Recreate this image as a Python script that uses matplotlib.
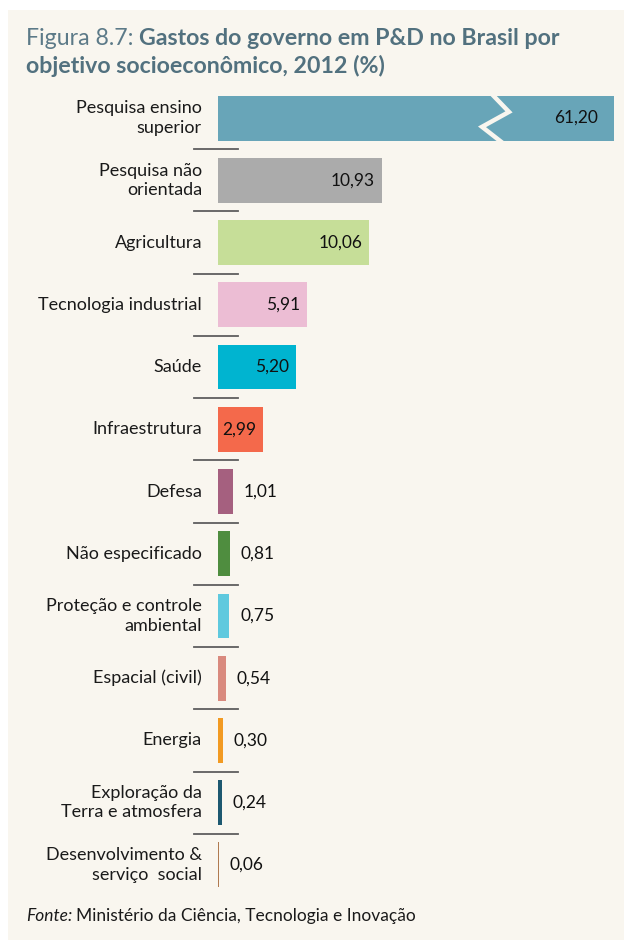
import matplotlib
matplotlib.use('Agg')
import matplotlib.pyplot as plt
import matplotlib.patches as patches

plt.rcParams['font.family'] = ['Lato', 'DejaVu Sans']

categories = ['Pesquisa ensino\nsuperior', 'Pesquisa não\norientada', 'Agricultura',
              'Tecnologia industrial', 'Saúde', 'Infraestrutura', 'Defesa',
              'Não especificado', 'Proteção e controle\nambiental', 'Espacial (civil)',
              'Energia', 'Exploração da\nTerra e atmosfera', 'Desenvolvimento &\nserviço  social']
values = [61.20, 10.93, 10.06, 5.91, 5.20, 2.99, 1.01, 0.81, 0.75, 0.54, 0.30, 0.24, 0.06]
colors = ['#68a5b8', '#ababab', '#c6de98', '#ecbdd4', '#00b4d0', '#f4694b', '#a5607f',
          '#4f8d3f', '#5fc9de', '#d98a7e', '#f29a22', '#1d5870', '#b07a50']

cream = '#f9f6ef'
title_col = '#52717f'
W, H = 624, 940

fig = plt.figure(figsize=(W / 100, H / 100), dpi=100)
fig.patch.set_facecolor('white')
fig.add_artist(patches.Rectangle((8 / W, 0), 1, 1 - 10 / H, transform=fig.transFigure,
                                 facecolor=cream, edgecolor='none', zorder=-10))

# axes: x=0 at 218px, 15px per unit, cut at 614px
ax = fig.add_axes([218 / W, 1 - 896 / H, 396 / W, 809 / H])
xmax = 396 / 15
ax.set_xlim(0, xmax)
ax.set_ylim(len(values) - 0.5, -0.5)
ax.axis('off')

ypos = list(range(len(values)))
ax.barh(ypos, values, height=0.72, color=colors, edgecolor='none')

# broken first bar
brk = 17.8
ax.plot([brk + 0.2, brk + 1.6, brk - 0.2, brk + 1.45],
        [-0.45, -0.1, 0.14, 0.45], color=cream, lw=3.2, solid_joinstyle='miter', zorder=5)

for i, (cat, v) in enumerate(zip(categories, values)):
    ax.text(-1.07, i, cat, ha='right', va='center', fontsize=13, color='#1a1a1a',
            linespacing=1.25, clip_on=False)
    lab = f'{v:.2f}'.replace('.', ',')
    if v > xmax:
        ax.text(xmax - 1.05, i, lab, ha='right', va='center', fontsize=12.5, color='#111111', zorder=6)
    elif v >= 2.9:
        ax.text(v - 0.45, i, lab, ha='right', va='center', fontsize=12.5, color='#111111')
    else:
        ax.text(v + 0.72, i, lab, ha='left', va='center', fontsize=12.5, color='#111111')
    if i < len(values) - 1:
        ax.plot([-1.6, 1.33], [i + 0.5, i + 0.5], color='#5e5e5e', lw=1.3, clip_on=False)

# title
t1 = fig.text(26 / W, 1 - 45 / H, 'Figura 8.7: ', fontsize=16.7, color='#5c7a88',
              fontweight='normal', va='baseline')
fig.canvas.draw()
bb = t1.get_window_extent()
fig.text(bb.x1 / W, 1 - 45 / H, 'Gastos do governo em P&D no Brasil por', fontsize=16.7,
         color=title_col, fontweight='bold', va='baseline')
fig.text(26 / W, 1 - 73 / H, 'objetivo socioeconômico, 2012 (%)', fontsize=16.7,
         color=title_col, fontweight='bold', va='baseline')

# source
s1 = fig.text(26 / W, 1 - 921 / H, 'Fonte:', fontsize=12.5, style='italic', color='#1a1a1a', va='baseline')
fig.canvas.draw()
bb = s1.get_window_extent()
fig.text(bb.x1 / W + 4 / W, 1 - 921 / H, 'Ministério da Ciência, Tecnologia e Inovação',
         fontsize=12.5, color='#1a1a1a', va='baseline')

fig.savefig('out.png', dpi=100, facecolor=fig.get_facecolor())
